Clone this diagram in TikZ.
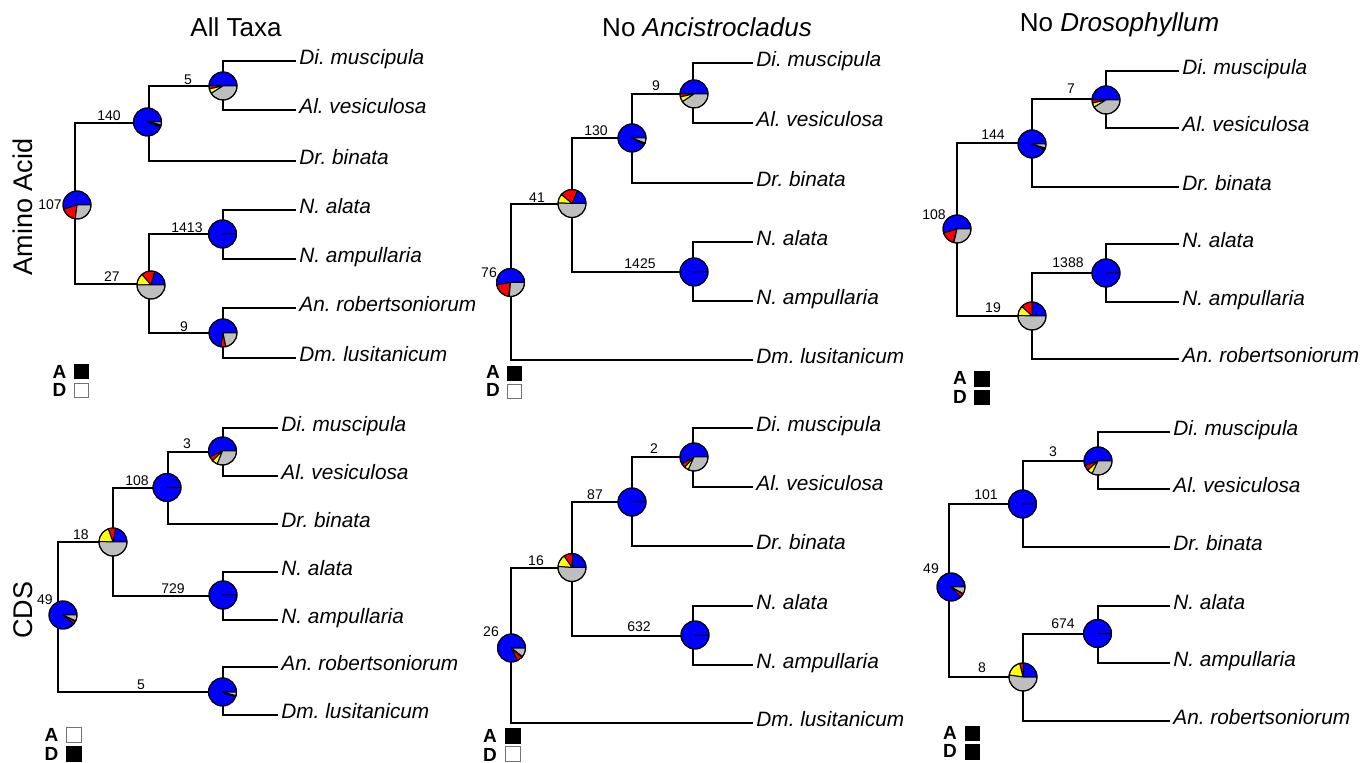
\documentclass[tikz,border=0pt]{standalone}
\usepackage{fontspec}
\setmainfont{Liberation Sans}
\frenchspacing
\definecolor{pblue}{RGB}{0,0,255}
\definecolor{pred}{RGB}{255,0,0}
\definecolor{pyellow}{RGB}{255,255,0}
\definecolor{pgrey}{RGB}{190,190,190}
\newcommand\pr{7pt}
\newcommand\pwedge[4]{\ifdim #2pt<#3pt\relax
  \filldraw[fill=#4,draw=black,line width=0.5pt,line join=round] (#1) -- ++(#2:\pr) arc[start angle=#2,end angle=#3,radius=\pr] -- cycle;\fi}
\newcommand\piechart[4]{%
  \pwedge{#1}{0}{#2}{pblue}%
  \pwedge{#1}{#2}{#3}{pred}%
  \pwedge{#1}{#3}{#4}{pyellow}%
  \pwedge{#1}{#4}{360}{pgrey}%
  \draw[line width=0.5pt] (#1) circle[radius=\pr];}
\tikzset{
  br/.style={line width=1pt, line join=miter},
  taxon/.style={anchor=west, font=\fontsize{10.4}{12}\selectfont\itshape, inner xsep=1.5pt, inner ysep=0pt, text height=5pt, text depth=1.5pt},
  num/.style={font=\fontsize{7}{8}\selectfont, inner sep=0pt},
  ttl/.style={anchor=base, font=\fontsize{13}{15}\selectfont, inner sep=0pt},
  rowlab/.style={rotate=90, font=\fontsize{13.5}{15}\selectfont, inner sep=0pt},
  leg/.style={font=\fontsize{9.5}{10}\selectfont\bfseries, inner sep=0pt},
  onbox/.style={fill=black, draw=black, line width=0.5pt, minimum size=7.25pt, inner sep=0pt},
  offbox/.style={fill=white, draw=black!55, line width=0.7pt, minimum size=7.25pt, inner sep=0pt},
}
\begin{document}
\begin{tikzpicture}[x=0.5pt,y=-0.5pt]
\useasboundingbox (0,0) rectangle (1364,763);
\fill[white] (0,0) rectangle (1364,763);

% titles and row labels
\node[ttl] (ttl1) at (236,37) {All Taxa};
\node[ttl] (ttl2) at (707,37) {No \textit{Ancistrocladus}};
\node[ttl] (ttl3) at (1119.5,32) {No \textit{Drosophyllum}};
\node[rowlab] (row1) at (23,207) {Amino Acid};
\node[rowlab] (row2) at (23,610) {CDS};

% ---------------- Tree 1 ----------------
\coordinate (t1r) at (75,205);
\coordinate (t1a) at (149,123);
\coordinate (t1b) at (223,86);
\coordinate (t1c) at (149,284);
\coordinate (t1d) at (223,234);
\coordinate (t1e) at (223,333);
\node[taxon] (t1dm) at (296,61) {Di. muscipula};
\node[taxon] (t1av) at (296,110) {Al. vesiculosa};
\node[taxon] (t1dr) at (296,161) {Dr. binata};
\node[taxon] (t1na) at (296,210) {N. alata};
\node[taxon] (t1np) at (296,259) {N. ampullaria};
\node[taxon] (t1ar) at (296,308) {An. robertsoniorum};
\node[taxon] (t1dl) at (296,358) {Dm. lusitanicum};
\draw[br] (t1r) |- (t1a); \draw[br] (t1r) |- (t1c);
\draw[br] (t1a) |- (t1b); \draw[br] (t1a) |- (t1dr.west);
\draw[br] (t1b) |- (t1dm.west); \draw[br] (t1b) |- (t1av.west);
\draw[br] (t1c) |- (t1d); \draw[br] (t1c) |- (t1e);
\draw[br] (t1d) |- (t1na.west); \draw[br] (t1d) |- (t1np.west);
\draw[br] (t1e) |- (t1ar.west); \draw[br] (t1e) |- (t1dl.west);
\piechart{77,205}{198}{263}{263}
\piechart{147.5,122}{340}{347}{349}
\piechart{223,86}{180}{192}{212}
\piechart{151,285}{75}{131}{180}
\piechart{222.5,234}{360}{360}{360}
\piechart{223,333}{262}{282}{282}
\node[num] (t1nr) at (50,205) {107};
\node[num] (t1na1) at (109,116) {140};
\node[num] (t1nb) at (188,80) {5};
\node[num] (t1nc) at (112,277) {27};
\node[num] (t1nd) at (187,228) {1413};
\node[num] (t1ne) at (184,327) {9};
\node[leg] (t1lA) at (59.5,371.5) {A};
\node[leg] (t1lD) at (59.5,390) {D};
\node[onbox] (t1bA) at (81.5,371.5) {};
\node[offbox] (t1bD) at (81.5,390.5) {};

% ---------------- Tree 2 ----------------
\coordinate (t2r) at (511,283);
\coordinate (t2a) at (572,204);
\coordinate (t2b) at (632,138);
\coordinate (t2c) at (693,94);
\coordinate (t2d) at (693,272);
\node[taxon] (t2dm) at (753,63) {Di. muscipula};
\node[taxon] (t2av) at (753,123) {Al. vesiculosa};
\node[taxon] (t2dr) at (753,183) {Dr. binata};
\node[taxon] (t2na) at (753,242) {N. alata};
\node[taxon] (t2np) at (753,301) {N. ampullaria};
\node[taxon] (t2dl) at (753,360) {Dm. lusitanicum};
\draw[br] (t2r) |- (t2a); \draw[br] (t2r) |- (t2dl.west);
\draw[br] (t2a) |- (t2b); \draw[br] (t2a) |- (t2d);
\draw[br] (t2b) |- (t2c); \draw[br] (t2b) |- (t2dr.west);
\draw[br] (t2c) |- (t2dm.west); \draw[br] (t2c) |- (t2av.west);
\draw[br] (t2d) |- (t2na.west); \draw[br] (t2d) |- (t2np.west);
\piechart{510.5,282.5}{190}{263}{265}
\piechart{572,203.5}{67}{140}{178}
\piechart{632,138}{332}{338}{339}
\piechart{694,94}{180}{192}{214}
\piechart{694,272}{360}{360}{360}
\node[num] (t2nr) at (489,273) {76};
\node[num] (t2na1) at (537,198) {41};
\node[num] (t2nb) at (596,131) {130};
\node[num] (t2nc) at (656,86) {9};
\node[num] (t2nd) at (640,264) {1425};
\node[leg] (t2lA) at (493,372) {A};
\node[leg] (t2lD) at (493,390) {D};
\node[onbox] (t2bA) at (514.5,373.5) {};
\node[offbox] (t2bD) at (514.5,391.5) {};

% ---------------- Tree 3 ----------------
\coordinate (t3r) at (957,229);
\coordinate (t3a) at (1032,143);
\coordinate (t3b) at (1106,99);
\coordinate (t3c) at (1032,316);
\coordinate (t3d) at (1106,273);
\node[taxon] (t3dm) at (1179,71) {Di. muscipula};
\node[taxon] (t3av) at (1179,128) {Al. vesiculosa};
\node[taxon] (t3dr) at (1179,187) {Dr. binata};
\node[taxon] (t3na) at (1179,244) {N. alata};
\node[taxon] (t3np) at (1179,302) {N. ampullaria};
\node[taxon] (t3ar) at (1179,359) {An. robertsoniorum};
\draw[br] (t3r) |- (t3a); \draw[br] (t3r) |- (t3c);
\draw[br] (t3a) |- (t3b); \draw[br] (t3a) |- (t3dr.west);
\draw[br] (t3b) |- (t3dm.west); \draw[br] (t3b) |- (t3av.west);
\draw[br] (t3c) |- (t3d); \draw[br] (t3c) |- (t3ar.west);
\draw[br] (t3d) |- (t3na.west); \draw[br] (t3d) |- (t3np.west);
\piechart{957,229}{197}{255}{257}
\piechart{1032,144}{335}{342}{343}
\piechart{1106,100}{180}{193}{211}
\piechart{1032,316}{90}{137}{178}
\piechart{1106,273}{360}{360}{360}
\node[num] (t3nr) at (934,215) {108};
\node[num] (t3na1) at (993,135) {144};
\node[num] (t3nb) at (1071,89) {7};
\node[num] (t3nc) at (993,308) {19};
\node[num] (t3nd) at (1068,263) {1388};
\node[leg] (t3lA) at (960,378) {A};
\node[leg] (t3lD) at (960,397) {D};
\node[onbox] (t3bA) at (982,379) {};
\node[onbox] (t3bD) at (982,397.5) {};

% ---------------- Tree 4 ----------------
\coordinate (t4r) at (58,615);
\coordinate (t4a) at (113,542);
\coordinate (t4b) at (168,488);
\coordinate (t4c) at (223,452);
\coordinate (t4d) at (223,596);
\coordinate (t4e) at (223,692);
\node[taxon] (t4dm) at (278,428) {Di. muscipula};
\node[taxon] (t4av) at (278,476) {Al. vesiculosa};
\node[taxon] (t4dr) at (278,524) {Dr. binata};
\node[taxon] (t4na) at (278,572) {N. alata};
\node[taxon] (t4np) at (278,620) {N. ampullaria};
\node[taxon] (t4ar) at (278,667) {An. robertsoniorum};
\node[taxon] (t4dl) at (278,715) {Dm. lusitanicum};
\draw[br] (t4r) |- (t4a); \draw[br] (t4r) |- (t4e);
\draw[br] (t4a) |- (t4b); \draw[br] (t4a) |- (t4d);
\draw[br] (t4b) |- (t4c); \draw[br] (t4b) |- (t4dr.west);
\draw[br] (t4c) |- (t4dm.west); \draw[br] (t4c) |- (t4av.west);
\draw[br] (t4d) |- (t4na.west); \draw[br] (t4d) |- (t4np.west);
\draw[br] (t4e) |- (t4ar.west); \draw[br] (t4e) |- (t4dl.west);
\piechart{63,615}{322}{333}{335}
\piechart{113,542}{79}{110}{178}
\piechart{167,487.5}{360}{360}{360}
\piechart{222.5,451}{205}{225}{248}
\piechart{223,595}{360}{360}{360}
\piechart{222.5,692}{340}{344}{345}
\node[num] (t4nr) at (45,600) {49};
\node[num] (t4na1) at (81,535) {18};
\node[num] (t4nb) at (137,481) {108};
\node[num] (t4nc) at (187,444) {3};
\node[num] (t4nd) at (173,589) {729};
\node[num] (t4ne) at (141,685) {5};
\node[leg] (t4lA) at (51.5,735) {A};
\node[leg] (t4lD) at (51.5,754) {D};
\node[offbox] (t4bA) at (74,735) {};
\node[onbox] (t4bD) at (74,754) {};

% ---------------- Tree 5 ----------------
\coordinate (t5r) at (511,648);
\coordinate (t5a) at (572,568);
\coordinate (t5b) at (632,502);
\coordinate (t5c) at (693,457);
\coordinate (t5d) at (693,636);
\node[taxon] (t5dm) at (753,428) {Di. muscipula};
\node[taxon] (t5av) at (753,487) {Al. vesiculosa};
\node[taxon] (t5dr) at (753,546) {Dr. binata};
\node[taxon] (t5na) at (753,606) {N. alata};
\node[taxon] (t5np) at (753,665) {N. ampullaria};
\node[taxon] (t5dl) at (753,723) {Dm. lusitanicum};
\draw[br] (t5r) |- (t5a); \draw[br] (t5r) |- (t5dl.west);
\draw[br] (t5a) |- (t5b); \draw[br] (t5a) |- (t5d);
\draw[br] (t5b) |- (t5c); \draw[br] (t5b) |- (t5dr.west);
\draw[br] (t5c) |- (t5dm.west); \draw[br] (t5c) |- (t5av.west);
\draw[br] (t5d) |- (t5na.west); \draw[br] (t5d) |- (t5np.west);
\piechart{511.5,648}{296}{318}{322}
\piechart{572,567.5}{88}{125}{176}
\piechart{632,502}{360}{360}{360}
\piechart{694,457}{210}{228}{246}
\piechart{695,635}{360}{360}{360}
\node[num] (t5nr) at (491,632) {26};
\node[num] (t5na1) at (536,561) {16};
\node[num] (t5nb) at (595,495) {87};
\node[num] (t5nc) at (654,449) {2};
\node[num] (t5nd) at (639,627) {632};
\node[leg] (t5lA) at (490,735.5) {A};
\node[leg] (t5lD) at (490,754.5) {D};
\node[onbox] (t5bA) at (513,736) {};
\node[offbox] (t5bD) at (513,754) {};

% ---------------- Tree 6 ----------------
\coordinate (t6r) at (949,587);
\coordinate (t6a) at (1023,504);
\coordinate (t6b) at (1098,461);
\coordinate (t6c) at (1023,677);
\coordinate (t6d) at (1098,634);
\node[taxon] (t6dm) at (1170,432) {Di. muscipula};
\node[taxon] (t6av) at (1170,489) {Al. vesiculosa};
\node[taxon] (t6dr) at (1170,547) {Dr. binata};
\node[taxon] (t6na) at (1170,606) {N. alata};
\node[taxon] (t6np) at (1170,663) {N. ampullaria};
\node[taxon] (t6ar) at (1170,721) {An. robertsoniorum};
\draw[br] (t6r) |- (t6a); \draw[br] (t6r) |- (t6c);
\draw[br] (t6a) |- (t6b); \draw[br] (t6a) |- (t6dr.west);
\draw[br] (t6b) |- (t6dm.west); \draw[br] (t6b) |- (t6av.west);
\draw[br] (t6c) |- (t6d); \draw[br] (t6c) |- (t6ar.west);
\draw[br] (t6d) |- (t6na.west); \draw[br] (t6d) |- (t6np.west);
\piechart{951,587}{315}{330}{332}
\piechart{1022.5,504}{360}{360}{360}
\piechart{1098,461}{200}{222}{245}
\piechart{1023,677}{88}{104}{172}
\piechart{1097.5,633.5}{360}{360}{360}
\node[num] (t6nr) at (931,569) {49};
\node[num] (t6na1) at (986,495) {101};
\node[num] (t6nb) at (1053,452) {3};
\node[num] (t6nc) at (982,668) {8};
\node[num] (t6nd) at (1063,624) {674};
\node[leg] (t6lA) at (950,732.5) {A};
\node[leg] (t6lD) at (950,751) {D};
\node[onbox] (t6bA) at (972.5,733.5) {};
\node[onbox] (t6bD) at (972.5,752) {};
\end{tikzpicture}
\end{document}
